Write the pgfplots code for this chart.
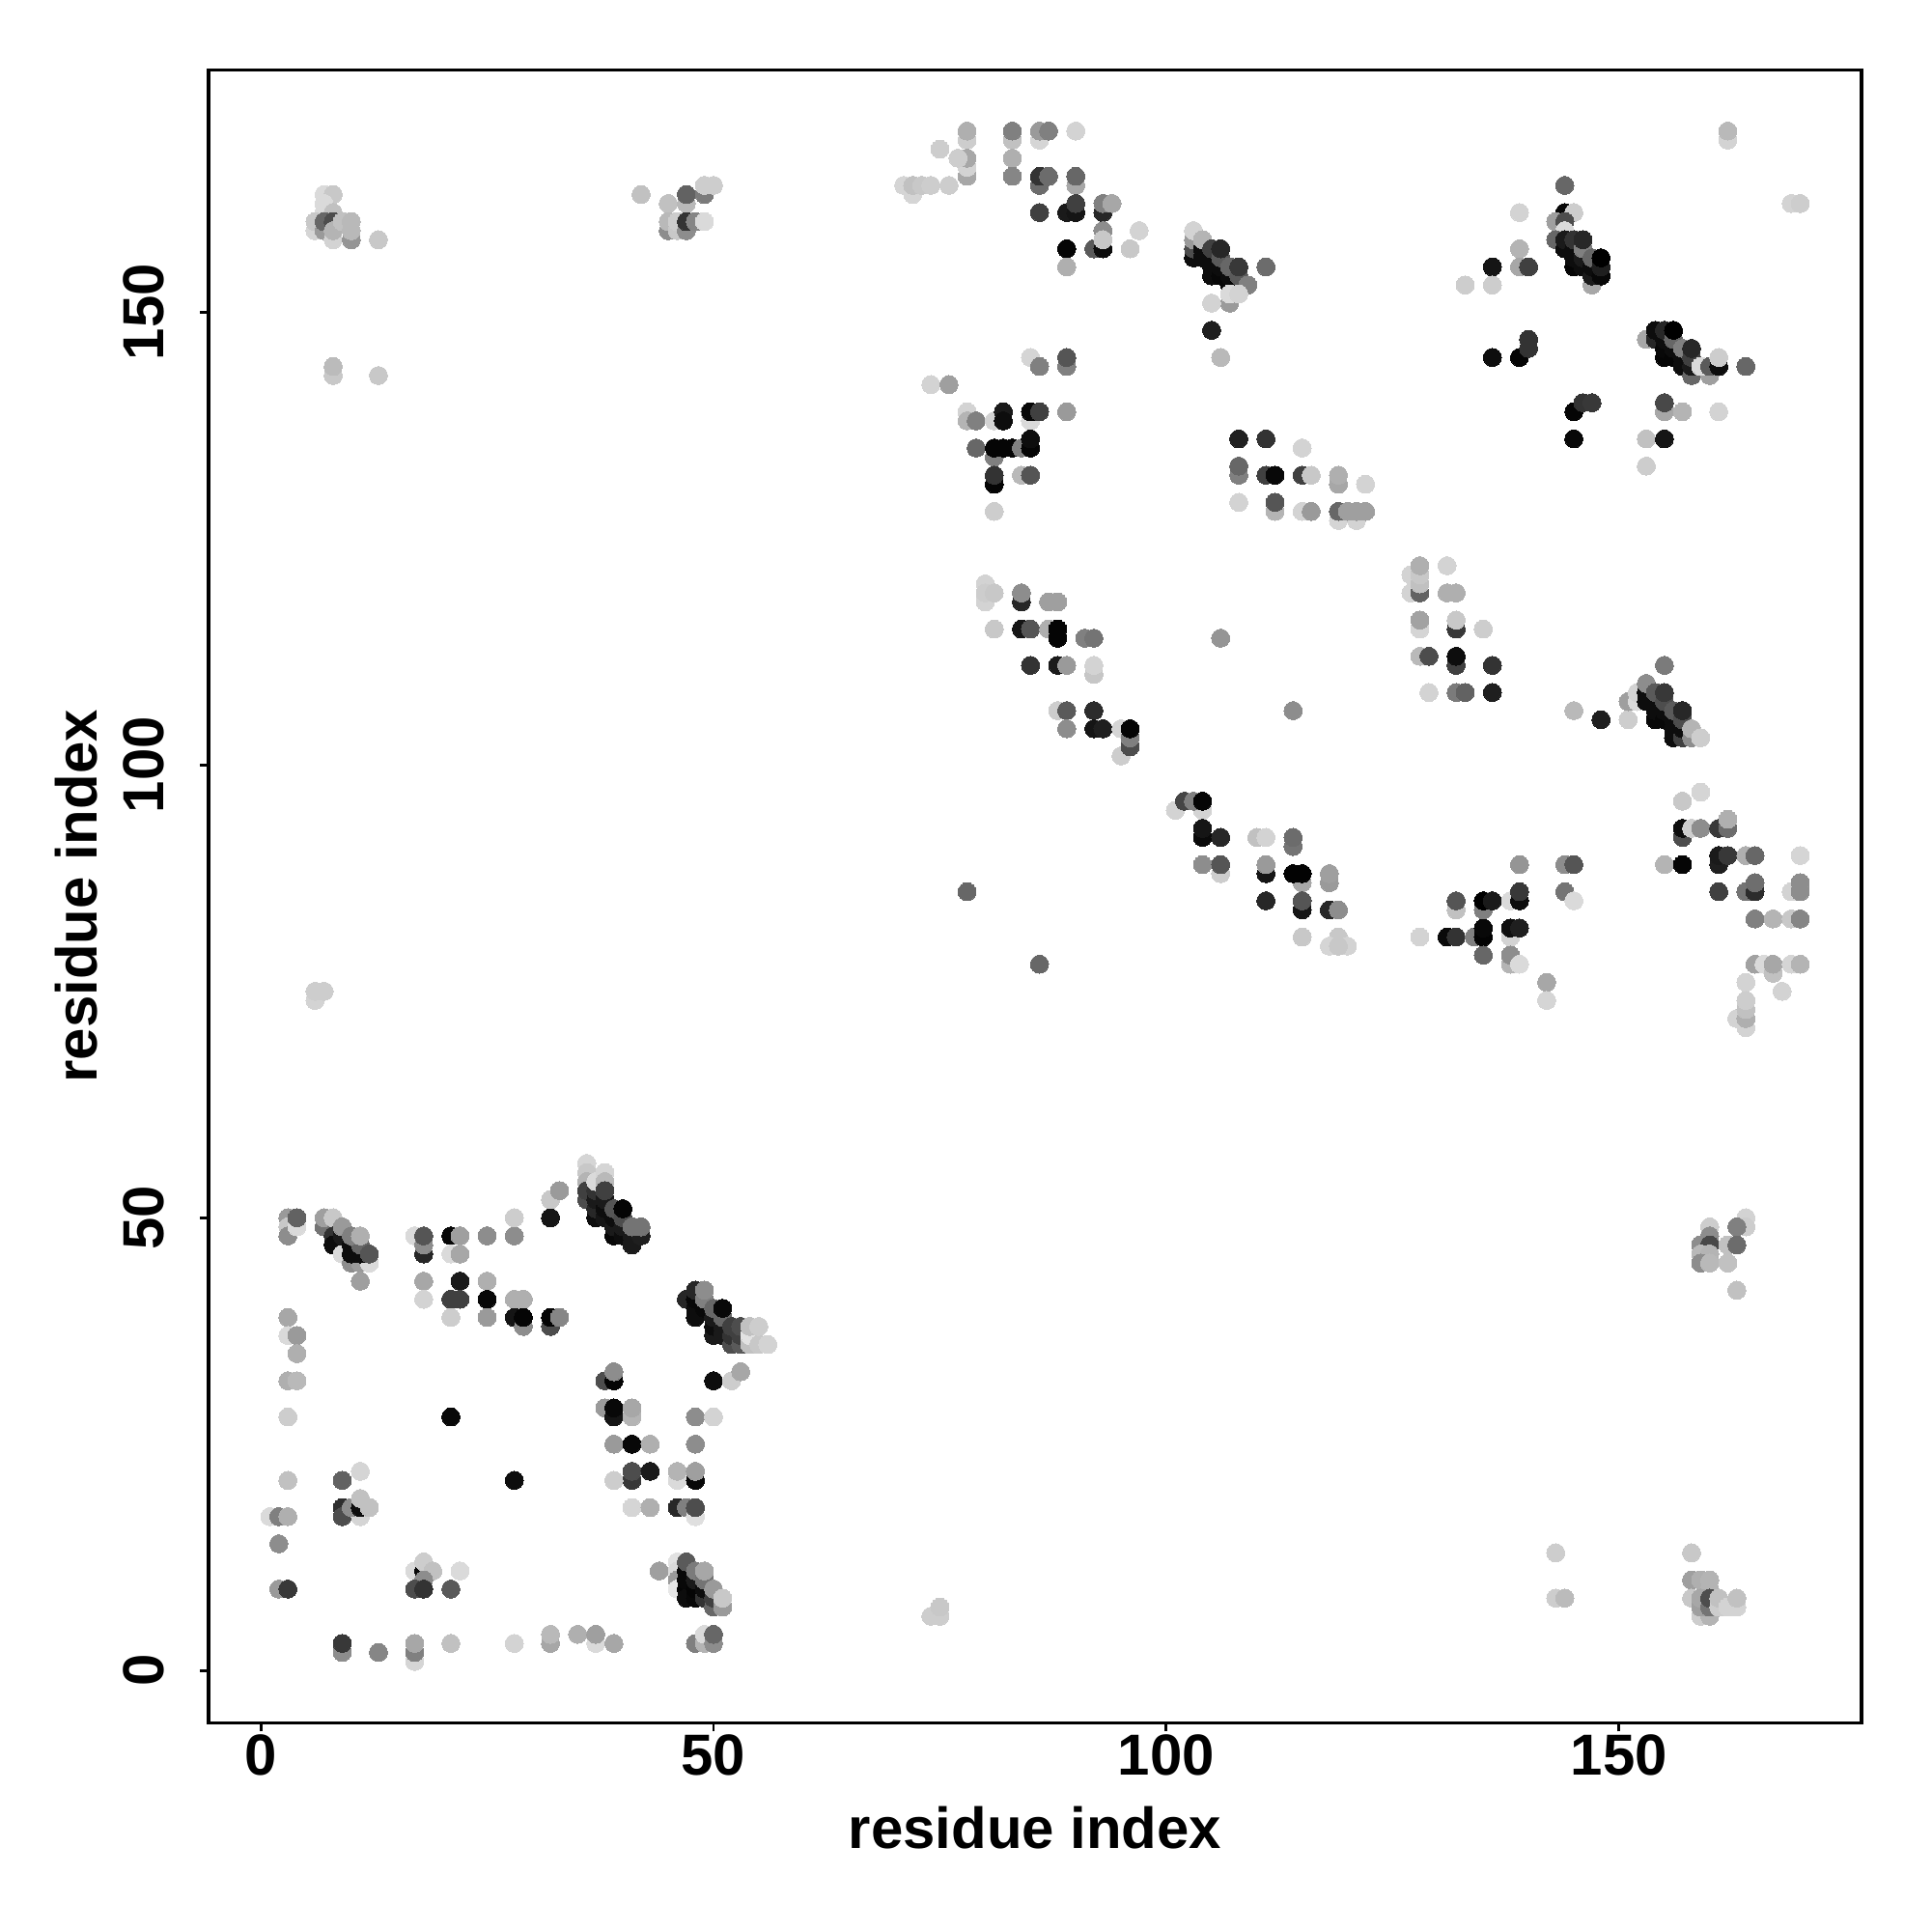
\documentclass[border=0pt]{standalone}
\usepackage{fontspec}
\setmainfont{Liberation Sans}
\usepackage{pgfplots}
\pgfplotsset{compat=1.18}
\begin{document}
\begin{tikzpicture}[x=1bp,y=1bp]
\path[use as bounding box] (0,0) rectangle (504,504);
\begin{axis}[
  at={(54.43bp,54.36bp)}, anchor=south west,
  scale only axis, width=431.4bp, height=431.4bp,
  xmin=-5.76, xmax=176.76, ymin=-5.76, ymax=176.76,
  axis line style={line width=0.84bp},
  every tick/.style={black,line width=0.75bp},
  tick align=outside, major tick length=2.3bp,
  xtick={0,50,100,150}, ytick={0,50,100,150},
  xtick pos=bottom, ytick pos=left,
  tick label style={font=\fontsize{15.1bp}{18bp}\selectfont\bfseries, /pgf/number format/assume math mode=true},
  xticklabel style={anchor=north, inner sep=0pt}, xticklabel shift={0.7bp},
  yticklabel style={rotate=90, anchor=south, inner sep=0pt}, yticklabel shift={9bp},
  xlabel={residue index}, ylabel={residue index},
  label style={font=\fontsize{15.1bp}{18bp}\selectfont\bfseries, inner sep=0pt},
  xlabel style={at={(axis description cs:0.5,0)}, anchor=center, yshift=-27.3bp},
  ylabel style={at={(axis description cs:0,0.5)}, anchor=center, rotate=0, yshift=34.5bp},
  colormap={bw}{gray(0cm)=(0); gray(1cm)=(1)}, point meta min=0, point meta max=1, clip=false
]
\addplot[only marks, scatter, mark=*, mark size=2.36bp, point meta=explicit, mark options={line width=0pt}, scatter/use mapped color={draw=mapped color,fill=mapped color}] coordinates {
(3,50) [.6] (3,49) [.78] (3,48) [.55] (4,49) [.85] (4,50) [.38] (7,49) [.45] (7,50) [.62] (8,50) [.78]
(8,48) [.2] (8,47) [.05] (9,47) [.05] (9,46) [.85] (10,45) [.55] (11,45) [.6] (12,45) [.85] (9,48) [.1] (10,47) [.05] (10,46) [.05] (11,46) [.05] (11,47) [.4] (9,49) [.6] (10,48) [.5] (11,48) [.68] (12,46) [.33] (11,43) [.62]
(17,48) [.85] (18,46) [.15] (18,47) [.55] (18,48) [.33] (21,48) [.03] (22,48) [.62] (21,46) [.85] (22,46) [.65] (25,48) [.55] (28,48) [.55] (28,50) [.8] (32,50) [.08] (32,52) [.78] (33,53) [.6]
(18,43) [.65] (22,43) [.1] (25,43) [.68] (18,41) [.82] (21,41) [.25] (22,41) [.25] (25,41) [.03] (28,41) [.68] (29,41) [.68] (21,39) [.8] (25,39) [.6] (28,39) [.08] (29,38) [.55] (29,39) [.02] (32,38) [.3] (32,39) [.02] (33,39) [.52]
(3,39) [.65] (3,37) [.85] (4,37) [.6] (4,35) [.68] (3,32) [.68] (4,32) [.72] (3,28) [.8] (21,28) [.03] (3,21) [.75] (9,21) [.38] (11,22) [.83] (28,21) [.05]
(9,18) [.18] (9,17) [.3] (11,17) [.83] (10,18) [.55] (11,18) [.05] (11,19) [.75] (12,18) [.75] (1,17) [.85] (2,17) [.5] (3,17) [.68] (2,14) [.55] (2,9) [.6] (3,9) [.22]
(17,11) [.85] (18,11) [.03] (18,12) [.8] (19,11) [.75] (18,10) [.55] (17,9) [.3] (18,9) [.2] (22,11) [.85] (21,9) [.35]
(44,11) [.62] (46,12) [.88] (46,11) [.85] (46,10) [.6] (46,9) [.9] (47,9) [.02] (47,8) [.05] (47,10) [.03] (47,11) [.03] (47,12) [.35] (48,8) [.03] (48,9) [.02] (48,10) [.1] (48,11) [.48] (49,8) [.2] (49,9) [.05] (49,10) [.45] (49,11) [.65] (50,7) [.4] (50,8) [.25] (50,9) [.6] (51,7) [.6] (51,8) [.78]
(9,2) [.55] (9,3) [.22] (13,2) [.52] (17,1) [.83] (17,2) [.5] (17,3) [.65] (21,3) [.75] (28,3) [.82] (32,3) [.65] (32,4) [.72] (35,4) [.68] (37,3) [.85] (37,4) [.62] (39,3) [.65] (48,3) [.5] (49,3) [.7] (49,4) [.85] (50,3) [.55] (50,4) [.4]
(36,56) [.83] (36,55) [.78] (36,54) [.7] (36,52) [.3] (36,53) [.25] (37,50) [.05] (37,51) [.15] (37,52) [.1] (37,53) [.2] (37,54) [.85] (38,55) [.83] (38,54) [.72] (38,50) [.08] (38,51) [.05] (38,52) [.1] (38,53) [.25] (39,48) [.03] (39,49) [.1] (39,50) [.05] (39,51) [.33] (40,48) [.05] (40,49) [.1] (40,50) [.3] (40,51) [.02] (41,47) [.1] (41,48) [.1] (42,48) [.12] (41,49) [.45] (42,49) [.45]
(47,41) [.15] (48,39) [.05] (48,40) [.05] (48,41) [.03] (48,42) [.15] (49,40) [.03] (49,41) [.5] (49,42) [.55] (50,37) [.1] (50,38) [.05] (50,39) [.1] (50,40) [.4] (51,37) [.1] (51,38) [.1] (51,39) [.4] (51,40) [.03] (52,36) [.3] (52,37) [.2] (52,38) [.25] (53,36) [.35] (53,37) [.25] (53,38) [.3] (54,36) [.75] (54,37) [.88] (54,38) [.75] (55,36) [.78] (55,38) [.8] (56,36) [.82]
(38,32) [.3] (39,32) [.02] (39,33) [.55] (38,29) [.6] (39,28) [.08] (39,29) [.03] (41,28) [.7] (41,29) [.65] (39,25) [.6] (41,25) [.03] (43,25) [.68] (48,28) [.55] (50,28) [.82] (48,25) [.55] (50,32) [.05] (52,32) [.8] (53,33) [.65]
(41,21) [.22] (41,22) [.3] (43,22) [.1] (46,21) [.85] (46,22) [.7] (48,21) [.03] (48,22) [.62] (39,21) [.8] (41,18) [.83] (43,18) [.68] (46,18) [.15] (47,18) [.5] (48,17) [.87] (48,18) [.3]
(78,169) [.8] (78,170) [.68] (78,165) [.65] (78,166) [.82] (78,167) [.65] (75,168) [.8] (77,167) [.8] (71,164) [.83] (72,163) [.83] (72,164) [.75] (73,164) [.78] (74,164) [.8] (76,164) [.8]
(83,169) [.75] (83,170) [.5] (83,167) [.68] (83,165) [.52] (86,169) [.83] (86,170) [.6] (87,170) [.5] (90,170) [.82] (86,164) [.42] (86,165) [.2] (87,165) [.42] (90,164) [.65] (90,165) [.4]
(86,161) [.25] (89,161) [.1] (90,161) [.08] (90,162) [.25] (93,161) [.15] (93,162) [.5] (94,162) [.65] (93,159) [.55] (92,157) [.35] (93,157) [.05] (93,158) [.78] (89,157) [.02] (89,155) [.68] (96,157) [.78] (97,159) [.82]
(103,156) [.05] (103,157) [.3] (103,158) [.6] (103,159) [.82] (104,156) [.05] (104,157) [.05] (104,158) [.7] (105,154) [.05] (105,155) [.05] (105,156) [.05] (105,157) [.25] (106,154) [.03] (106,155) [.05] (106,156) [.35] (106,157) [.15] (107,153) [.03] (107,154) [.05] (107,155) [.4] (108,153) [.03] (108,154) [.35] (108,155) [.22] (109,153) [.5] (111,155) [.42] (107,151) [.6] (107,152) [.85] (108,152) [.82] (105,151) [.82] (105,148) [.12] (106,145) [.72]
(85,145) [.83] (86,144) [.5] (89,144) [.5] (89,145) [.33] (74,142) [.82] (76,142) [.62]
(78,139) [.82] (78,138) [.7] (79,138) [.5] (81,138) [.82] (82,139) [.1] (82,138) [.05] (85,138) [.85] (85,139) [.03] (86,139) [.25] (89,139) [.6]
(79,135) [.4] (81,134) [.5] (81,135) [.02] (82,135) [.02] (83,135) [.02] (84,135) [.5] (85,135) [.02] (85,136) [.05] (81,131) [.02] (81,132) [.2] (84,132) [.72] (85,132) [.33] (81,128) [.8]
(108,136) [.13] (111,136) [.2] (115,135) [.82] (108,132) [.5] (108,133) [.4] (111,132) [.25] (112,132) [.03] (115,132) [.25] (116,132) [.78] (119,131) [.65] (119,132) [.68] (122,131) [.82] (108,129) [.82] (112,128) [.7] (112,129) [.33] (115,128) [.82] (116,128) [.6] (119,127) [.83] (121,127) [.82] (119,128) [.4] (120,128) [.62] (121,128) [.62] (122,128) [.62]
(144,164) [.4] (139,161) [.82] (144,161) [.03] (145,161) [.8] (143,160) [.62] (144,160) [.3] (144,159) [.85] (143,158) [.4] (144,157) [.05] (144,158) [.1] (145,155) [.02] (145,156) [.05] (145,157) [.05] (145,158) [.2] (146,155) [.05] (146,156) [.1] (146,157) [.5] (146,158) [.15] (147,153) [.65] (147,154) [.1] (147,155) [.05] (147,156) [.4] (148,154) [.03] (148,155) [.12] (148,156) [0]
(139,157) [.7] (139,155) [.65] (140,155) [.25] (136,155) [.08] (133,153) [.8] (136,153) [.8] (136,145) [.05] (139,145) [.02] (140,147) [.2] (140,146) [.2] (145,139) [.02] (146,140) [.2] (147,140) [.22] (145,136) [.03] (153,136) [.75] (155,136) [.08] (155,139) [.65] (155,140) [.28] (157,139) [.7] (161,139) [.82] (153,133) [.8]
(153,147) [.65] (154,147) [.15] (154,148) [.05] (155,145) [.02] (155,146) [.03] (155,147) [.05] (155,148) [.15] (156,145) [.02] (156,146) [.05] (156,147) [.4] (156,148) [0] (157,144) [.05] (157,145) [.05] (157,146) [.5] (158,143) [.4] (158,144) [.1] (158,145) [.25] (158,146) [.15] (160,143) [.62] (159,144) [.85] (160,144) [.35] (161,144) [.05] (161,145) [.8] (164,144) [.4] (169,162) [.82] (170,162) [.8]
(80,118) [.82] (80,120) [.82] (80,119) [.8] (81,119) [.78] (84,118) [.15] (84,119) [.55] (87,118) [.62] (88,118) [.62] (81,115) [.78] (84,115) [.08] (85,115) [.33] (87,115) [.68] (88,114) [.02] (88,115) [.02] (91,114) [.5] (92,114) [.45] (106,114) [.58]
(85,111) [.2] (88,111) [.1] (89,111) [.6] (92,110) [.77] (92,111) [.82] (88,106) [.8] (89,106) [.35] (92,106) [.17] (89,104) [.55] (92,104) [.08] (93,104) [.12] (95,101) [.8] (95,104) [.83] (96,102) [.3] (96,103) [.5] (96,104) [.02]
(127,121) [.82] (127,119) [.82] (128,119) [.38] (128,120) [.75] (128,121) [.78] (128,122) [.68] (131,122) [.82] (131,119) [.68] (132,119) [.68] (128,115) [.83] (128,116) [.63] (132,115) [.22] (132,116) [.78] (135,115) [.8] (128,112) [.72] (129,112) [.3] (132,111) [.25] (132,112) [.05] (136,111) [.2] (129,108) [.82] (132,108) [.48] (133,108) [.38] (136,108) [.12]
(145,106) [.72] (148,105) [.12] (151,105) [.8] (155,111) [.48] (151,107) [.62] (152,107) [.85] (152,108) [.82] (153,107) [.05] (153,108) [.05] (153,109) [.55] (154,105) [.03] (154,106) [.05] (154,107) [.05] (154,108) [.35] (155,105) [.03] (155,106) [.05] (155,107) [.3] (155,108) [.22] (156,103) [.05] (156,104) [.05] (156,105) [.05] (156,106) [.35] (157,103) [.25] (157,104) [.05] (157,105) [.3] (157,106) [.15] (158,103) [.55] (158,104) [.7] (159,103) [.8]
(101,95) [.82] (104,95) [.82] (102,96) [.27] (103,96) [.5] (104,96) [.02] (104,92) [.04] (104,93) [.08] (106,92) [.15] (110,92) [.75] (111,92) [.82] (114,91) [.45] (114,92) [.42] (104,89) [.55] (106,88) [.8] (106,89) [.33] (111,88) [.08] (111,89) [.6] (115,87) [.65] (114,88) [.01] (115,88) [.01] (118,87) [.6] (118,88) [.62]
(111,85) [.15] (115,84) [.08] (115,85) [.33] (118,84) [.15] (119,84) [.55] (115,81) [.78] (119,81) [.78] (118,80) [.83] (120,80) [.82] (119,80) [.78]
(128,81) [.82] (131,81) [.04] (132,81) [.2] (134,81) [.5] (135,81) [.01] (135,82) [.03] (135,79) [.4] (132,84) [.75] (132,85) [.33] (135,84) [.5] (135,85) [0] (136,85) [.1] (138,85) [.85] (139,85) [.05] (139,86) [.22] (139,89) [.58] (138,81) [.82] (138,82) [.06] (139,82) [.12] (138,78) [.7] (138,79) [.55] (139,78) [.85] (142,76) [.65] (142,74) [.83]
(144,89) [.55] (145,89) [.33] (144,86) [.45] (145,85) [.85] (157,96) [.78] (159,97) [.83] (157,92) [.3] (157,93) [.05] (158,93) [.8] (159,93) [.55] (161,93) [.22] (162,93) [.42] (162,94) [.68] (155,89) [.7] (157,89) [.02] (161,89) [.12] (161,90) [.1] (162,90) [.22] (164,90) [.68] (165,90) [.4] (170,90) [.83]
(161,86) [.25] (164,86) [.45] (165,86) [.17] (165,87) [.43] (169,86) [.82] (170,86) [.55] (170,87) [.55] (165,83) [.5] (167,83) [.7] (169,83) [.78] (170,83) [.52]
(165,78) [.63] (166,78) [.85] (167,77) [.75] (167,78) [.65] (169,78) [.83] (170,78) [.7] (164,76) [.82] (168,75) [.82] (164,71) [.82] (163,72) [.82] (164,72) [.68] (164,73) [.75] (164,74) [.8]
(164,50) [.82] (164,49) [.8] (163,49) [.5] (160,49) [.8] (160,48) [.55] (159,47) [.55] (160,47) [.28] (159,46) [.72] (160,46) [.7] (159,45) [.55] (160,45) [.72] (162,47) [.75] (163,47) [.42] (162,45) [.75] (163,42) [.75]
(143,13) [.8] (158,13) [.78] (143,8) [.8] (144,8) [.73] (158,10) [.62] (159,10) [.68] (160,10) [.7] (160,9) [.7] (158,8) [.78] (159,6) [.8] (160,6) [.7] (159,7) [.62] (159,8) [.65] (160,7) [.45] (160,8) [.3] (161,7) [.8] (161,8) [.75] (162,7) [.82] (163,7) [.82] (163,8) [.75]
(7,163) [.85] (8,163) [.78] (7,162) [.85] (7,161) [.85] (8,161) [.75] (6,159) [.83] (6,160) [.78] (7,159) [.6] (7,160) [.4] (8,160) [.3] (8,158) [.82] (8,159) [.7] (9,160) [.75] (10,158) [.58] (10,159) [.72] (10,160) [.72] (13,158) [.78] (8,143) [.78] (8,144) [.73] (13,143) [.78]
(42,163) [.75] (45,162) [.75] (47,162) [.72] (47,163) [.38] (49,163) [.48] (49,164) [.8] (50,164) [.8] (45,159) [.55] (45,160) [.72] (46,159) [.78] (46,160) [.8] (47,159) [.55] (47,160) [.2] (48,160) [.52] (49,160) [.85]
(6,74) [.82] (6,75) [.8] (7,75) [.8] (78,86) [.4] (86,78) [.4] (114,106) [.55] (74,6) [.8] (75,6) [.8] (75,7) [.78] (162,169) [.82] (162,170) [.72]
};
\end{axis}
\end{tikzpicture}
\end{document}
